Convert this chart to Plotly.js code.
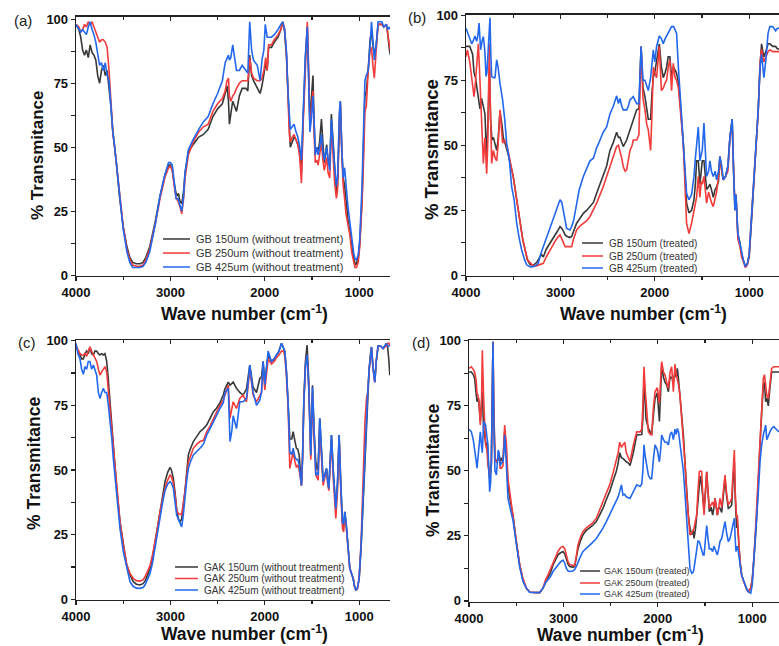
<!DOCTYPE html>
<html><head><meta charset="utf-8">
<script src="https://cdn.plot.ly/plotly-3.0.1.min.js"></script>
<style>html,body{margin:0;padding:0;background:#fff}#chart{width:779px;height:646px}</style>
</head><body><div id="chart"></div>
<script>
// ---------- DATA: [wavenumber (cm-1), % transmittance] ----------
const GB150_untreated = [[4000,98],[3970,96],[3950,93],[3930,88],[3910,86],[3890,88],[3870,85],[3850,90],[3830,87],[3810,86],[3790,84],[3770,78],[3750,75],[3730,80],[3710,82],[3690,78],[3670,80],[3650,74],[3630,66],[3610,56],[3590,50],[3570,43],[3540,31],[3500,19],[3460,11],[3430,7],[3400,5],[3360,4.5],[3320,4.5],[3290,5],[3260,7],[3220,11],[3160,21],[3110,31],[3060,39],[3020,43],[3000,43],[2980,41],[2960,36],[2940,32],[2925,31],[2915,32],[2900,29],[2880,28],[2860,33],[2845,40],[2810,48],[2760,51],[2700,54],[2650,55],[2600,57],[2550,62],[2500,65],[2450,67],[2420,71],[2400,74],[2385,68],[2375,59],[2360,63],[2340,68],[2320,66],[2300,64],[2270,70],[2240,73],[2200,73],[2180,72],[2160,86],[2140,78],[2120,76],[2080,73],[2050,71],[2030,74],[2010,78],[1990,83],[1975,80],[1960,89],[1930,89],[1900,91],[1860,93],[1830,96],[1810,99],[1790,95],[1770,85],[1755,70],[1740,55],[1730,50],[1710,52],[1690,54],[1670,53],[1650,51],[1630,48],[1612,40],[1595,60],[1570,85],[1550,97],[1535,80],[1522,60],[1505,70],[1490,78],[1478,60],[1465,48],[1450,50],[1435,48],[1420,52],[1400,61],[1385,52],[1370,44],[1355,48],[1345,51],[1330,45],[1312,43],[1295,63],[1275,50],[1260,40],[1242,32],[1230,35],[1210,62],[1200,68],[1185,50],[1170,38],[1155,35],[1140,28],[1120,22],[1100,17],[1080,11],[1060,7],[1040,4],[1025,5],[1010,7],[995,12],[970,30],[950,55],[940,70],[925,72],[905,80],[885,92],[870,95],[855,90],[840,86],[820,90],[800,98],[760,98],[740,97],[712,98],[700,95],[680,88],[670,86]];
const GB250_untreated = [[4000,98],[3970,97],[3950,95],[3930,96],[3910,98],[3890,97],[3870,99],[3850,98],[3830,99],[3810,97],[3790,95],[3770,93],[3750,91],[3730,92],[3710,92],[3690,91],[3670,89],[3650,80],[3630,68],[3610,56],[3590,50],[3570,43],[3540,31],[3500,19],[3460,10],[3430,6],[3400,4],[3360,3.5],[3320,3.5],[3290,4],[3260,6],[3220,10],[3160,20],[3110,30],[3060,38],[3020,42],[3000,42.5],[2980,41],[2960,35],[2940,30],[2920,29],[2900,27],[2880,24],[2860,30],[2845,38],[2810,47],[2760,52],[2700,56],[2650,58],[2600,59],[2550,64],[2500,67],[2450,69],[2420,72],[2400,76],[2385,77],[2375,70],[2360,68],[2340,70],[2320,71],[2300,73],[2270,75],[2240,76],[2200,76],[2180,76],[2160,85],[2140,79],[2120,77],[2080,76],[2050,76],[2030,77],[2010,80],[1990,85],[1975,80],[1960,90],[1930,90],[1900,92],[1860,94],[1830,96],[1810,99],[1790,96],[1770,86],[1755,70],[1740,55],[1730,52],[1710,54],[1690,55],[1670,53],[1650,51],[1630,46],[1612,36],[1595,58],[1570,85],[1550,99],[1535,80],[1522,57],[1505,65],[1490,72],[1478,55],[1465,44],[1450,45],[1435,43],[1420,47],[1400,52],[1385,45],[1370,41],[1355,44],[1345,46],[1330,40],[1312,38],[1295,58],[1275,45],[1260,36],[1242,30],[1230,33],[1210,62],[1200,67],[1185,48],[1170,35],[1155,30],[1140,24],[1120,20],[1100,16],[1080,9],[1060,5],[1045,3],[1030,3],[1010,5],[995,11],[970,28],[950,50],[940,64],[925,66],[905,80],[885,88],[870,89],[855,82],[840,77],[820,88],[800,98],[760,98],[740,97],[712,98],[700,94],[680,90],[670,88]];
const GB425_untreated = [[4000,98],[3970,96],[3950,95],[3930,96],[3910,95],[3890,94],[3870,97],[3850,99],[3830,96],[3810,94],[3790,91],[3770,87],[3750,82],[3730,83],[3710,80],[3690,83],[3670,78],[3650,76],[3630,66],[3610,56],[3590,50],[3570,43],[3540,30],[3500,18],[3460,9],[3430,5],[3400,3],[3360,3],[3320,3],[3290,3.5],[3260,5],[3220,9],[3160,20],[3110,31],[3060,39],[3020,44],[3000,44],[2980,43],[2960,37],[2940,30],[2920,30],[2900,27],[2880,25],[2860,31],[2845,40],[2810,49],[2760,53],[2700,57],[2650,60],[2600,62],[2550,67],[2500,71],[2450,76],[2420,83],[2400,85],[2385,86],[2375,84],[2360,85],[2340,90],[2320,84],[2300,80],[2270,80],[2240,82],[2200,80],[2180,79],[2160,99],[2140,88],[2120,84],[2080,82],[2050,76],[2030,84],[2010,88],[1995,98],[1975,93],[1960,93],[1930,93],[1900,94],[1860,96],[1830,98],[1810,99],[1790,96],[1770,87],[1755,72],[1740,60],[1730,57],[1710,58],[1690,59],[1670,56],[1650,54],[1630,50],[1612,45],[1595,62],[1570,86],[1550,97],[1535,75],[1522,56],[1505,62],[1490,70],[1478,60],[1465,47],[1450,50],[1435,47],[1420,50],[1400,55],[1385,48],[1370,45],[1355,48],[1345,50],[1330,45],[1312,41],[1295,61],[1275,48],[1260,42],[1242,35],[1230,38],[1210,64],[1200,68],[1185,50],[1170,38],[1155,42],[1140,34],[1120,27],[1100,21],[1080,14],[1060,9],[1045,6.5],[1030,6],[1010,8],[995,14],[970,35],[950,60],[940,76],[925,78],[905,80],[885,90],[870,99],[855,92],[840,84],[820,90],[800,99],[760,99],[740,97],[712,98],[700,96],[680,97],[670,96]];

const GB150_treated = [[4000,88],[3960,88],[3930,85],[3915,78],[3900,76],[3887,72.6],[3870,68],[3852,64],[3835,68],[3823,66],[3799,62],[3781,44],[3765,60],[3750,80],[3740,60],[3725,52],[3710,53],[3690,50],[3675,48],[3660,52],[3640,63],[3620,58],[3605,53],[3580,50],[3550,46],[3500,38],[3450,26],[3400,14],[3350,6],[3320,4],[3280,4],[3250,5],[3200,8],[3181,7],[3150,10],[3110,12.3],[3080,14],[3057,15],[3030,17],[3004,18.7],[2985,18],[2969,17],[2950,15.5],[2934,15],[2900,14.5],[2881,14.9],[2860,17],[2828,20],[2790,22],[2757,23.8],[2720,25],[2687,26.4],[2650,28],[2616,31.5],[2580,35],[2546,38],[2510,42],[2475,48],[2440,51],[2404,55],[2385,53],[2369,53],[2350,51],[2334,49.5],[2298,52],[2263,56],[2228,60],[2192,63.6],[2168,64],[2145,88],[2125,72],[2104,68.7],[2069,60],[2044,60],[2030,70],[2016,76],[2000,78],[1981,83],[1966,85],[1952,89],[1930,80],[1910,76],[1890,78],[1875,80],[1858,84],[1840,84],[1822,76],[1804,80],[1785,79],[1769,77.7],[1750,74],[1734,68],[1698,50.8],[1663,27.7],[1638,24],[1610,25],[1585,29],[1570,35],[1557,44],[1539,44],[1522,35],[1508,42],[1497,44],[1479,44],[1465,38],[1451,33],[1430,34],[1416,35],[1400,33],[1381,30],[1360,33],[1345,34],[1325,36],[1310,45.6],[1290,40],[1275,36.7],[1250,38],[1225,42],[1204,53],[1180,60],[1165,40],[1151,25],[1140,31],[1120,16],[1098,12.3],[1080,8],[1063,6],[1040,3.3],[1020,4],[1000,7],[980,18],[957,31.5],[930,50],[904,63.6],[885,80],[869,89],[855,86],[844,84],[823,86],[800,89],[781,89],[750,88],[720,88],[700,87],[684,87]];
const GB250_treated = [[4000,84],[3985,86.7],[3960,82],[3940,76],[3925,72],[3915,68.7],[3905,72],[3894,76.4],[3880,84],[3869,89],[3858,80],[3845,66],[3830,52],[3816,43],[3805,50],[3799,53],[3790,46],[3781,39],[3770,50],[3762,70],[3753,89],[3745,70],[3735,50],[3728,43],[3710,48],[3690,45],[3675,44],[3660,50],[3640,63.6],[3625,58],[3612,50.8],[3590,52],[3570,50],[3550,47],[3500,38],[3450,26],[3400,14],[3350,6],[3300,4],[3260,3.5],[3230,4],[3181,4.6],[3150,7],[3110,9.7],[3080,12],[3057,13],[3030,14.5],[3004,15.5],[2985,14],[2969,12.3],[2950,11],[2934,11],[2900,11],[2881,11],[2860,14],[2828,17.4],[2790,19],[2757,20],[2720,21],[2687,22.6],[2650,25],[2616,27.7],[2580,31],[2546,34],[2510,38],[2475,41.8],[2440,45],[2404,49.5],[2385,50],[2369,48],[2350,45],[2334,41.8],[2315,40],[2298,40.5],[2280,44],[2263,48],[2240,50],[2228,52],[2192,52],[2168,54],[2145,88],[2125,68],[2104,63.6],[2085,58],[2069,56],[2044,48],[2030,62],[2016,80],[2000,78],[1981,76],[1966,82],[1952,88],[1930,71],[1910,72],[1890,74],[1875,75],[1858,80],[1840,82.8],[1822,71],[1804,81.5],[1785,76],[1769,75],[1750,72],[1734,65],[1698,50.8],[1663,20],[1638,16],[1610,20],[1585,25],[1570,28],[1557,30],[1539,38],[1522,30],[1508,36],[1497,35],[1479,38],[1465,33],[1451,27.7],[1430,32],[1416,30],[1400,28],[1381,26.4],[1360,30],[1345,32],[1325,38],[1310,45.6],[1290,40],[1275,36.7],[1250,38],[1225,40],[1204,53],[1180,58],[1165,40],[1151,28],[1140,31],[1120,14],[1098,11],[1080,7],[1060,5],[1040,3],[1020,4],[1000,8],[980,20],[957,33],[930,50],[904,63],[885,82],[869,87],[855,84],[844,82],[823,84],[800,86],[781,86.7],[750,86],[720,86],[700,86],[684,86]];
const GB425_treated = [[4000,95],[3980,93],[3960,91.8],[3940,89],[3925,90],[3905,92],[3887,90],[3875,92],[3862,97],[3845,86.7],[3830,90],[3816,91.8],[3800,86],[3788,76.4],[3778,78],[3770,82.8],[3758,90],[3746,99],[3737,85],[3728,76.4],[3710,76],[3693,76],[3675,82.8],[3660,80],[3640,73.8],[3612,67.4],[3590,60],[3569,50.8],[3540,44],[3516,34],[3490,29],[3463,20],[3435,14],[3410,9.7],[3380,6],[3357,4],[3320,3.2],[3287,3.3],[3260,3.8],[3234,4.6],[3210,8],[3181,11],[3150,14],[3110,18.7],[3080,21],[3057,23.8],[3030,27],[3004,29],[2985,28],[2969,25],[2950,21],[2934,18],[2900,17.4],[2881,18.7],[2860,21],[2840,25],[2828,29],[2800,33],[2757,38],[2720,41],[2687,44],[2650,45],[2616,49],[2580,52],[2546,55],[2510,57],[2475,62],[2440,65],[2404,69],[2385,66],[2369,68],[2350,65],[2334,63.6],[2298,63.6],[2280,65],[2263,67.4],[2228,68.7],[2192,66],[2168,66],[2145,88],[2125,75],[2104,75],[2069,71],[2044,76],[2030,82],[2016,86.7],[2000,82],[1981,88],[1966,90],[1952,92],[1930,91],[1910,89],[1890,91],[1875,92],[1840,94],[1822,95.6],[1800,95.6],[1780,94],[1769,93],[1750,80],[1734,70],[1698,50.8],[1663,31.5],[1638,29],[1610,31],[1585,38],[1570,45],[1557,50.8],[1539,57],[1522,44],[1508,46],[1497,48],[1479,58.5],[1465,45],[1451,38],[1430,40],[1416,44],[1400,40],[1381,38],[1360,40],[1345,36.7],[1325,40],[1310,45.6],[1290,42],[1275,36.7],[1250,38],[1225,42],[1204,53],[1180,60],[1165,40],[1151,25],[1140,31],[1120,16],[1098,12.3],[1080,8.5],[1063,6],[1040,3.3],[1020,4.5],[1000,8],[980,20],[957,31.5],[930,50],[904,63.6],[885,80],[869,85],[855,80],[844,76],[823,83],[800,93],[781,95.6],[750,95.6],[720,94],[700,95],[684,95]];

const GAK150_untreated = [[4000,98],[3980,96],[3958,94.5],[3940,93],[3922,93],[3905,95],[3887,96],[3870,95],[3852,97.6],[3835,95],[3816,94.5],[3800,96],[3781,96],[3763,95],[3746,94.5],[3728,95],[3710,94.5],[3693,95],[3675,92],[3660,86],[3640,76],[3620,66],[3605,58],[3569,43],[3534,30],[3499,21],[3463,13],[3428,9.4],[3393,6.8],[3360,5.8],[3322,5.5],[3290,6],[3269,7],[3240,9.5],[3216,12],[3190,16],[3163,22],[3135,28],[3110,35],[3080,41],[3057,45.5],[3030,49],[3004,51],[2990,50],[2969,46.8],[2950,41],[2934,35],[2915,31],[2899,30],[2881,31],[2865,35],[2846,41.6],[2830,48],[2810,55.8],[2790,58],[2757,61],[2720,63],[2687,64.8],[2650,66],[2616,67.4],[2580,70],[2546,72.5],[2510,74],[2475,76],[2440,79],[2422,81.4],[2387,84],[2369,82.8],[2335,84],[2300,81.6],[2265,80],[2230,79],[2194,81.4],[2159,90.6],[2124,82],[2088,80],[2053,85.4],[2035,86],[2018,92],[2000,84],[1965,94.5],[1930,92],[1900,93],[1877,94.5],[1850,96],[1823,99],[1800,97],[1788,96],[1770,88],[1753,76.4],[1735,62],[1715,62],[1700,64.8],[1680,61],[1665,58.4],[1650,58],[1636,55.7],[1612,44],[1600,55],[1587,76.4],[1570,92],[1552,98.3],[1535,85],[1513,55.7],[1495,82.8],[1478,65],[1460,53],[1445,50],[1435,52],[1418,70],[1400,58],[1382,45.5],[1365,48],[1347,50.6],[1335,47],[1322,42.8],[1310,52],[1294,63.5],[1275,50],[1262,40],[1248,35],[1230,45],[1213,63.5],[1195,45],[1178,30],[1165,28],[1153,33.8],[1140,30],[1128,24.8],[1115,18],[1100,12],[1082,10],[1064,8],[1050,5],[1036,3.6],[1020,4],[1001,8],[980,20],[959,37.7],[940,55],[923,67.4],[910,80],[895,89],[880,95],[870,97.6],[855,90],[835,84],[820,92],[800,98],[775,98],[747,97],[712,99],[700,98],[685,92],[676,86.7]];
const GAK250_untreated = [[4000,98],[3980,96.5],[3958,95],[3940,94.5],[3922,94.5],[3905,95],[3887,94],[3870,96],[3852,97.6],[3835,96],[3816,94.5],[3800,93],[3781,92],[3763,89],[3746,86.7],[3728,88],[3710,89.3],[3693,90],[3675,88],[3660,82],[3640,72.5],[3620,64],[3605,58],[3569,43],[3534,30],[3499,21],[3463,13.5],[3428,10],[3393,8],[3360,7.2],[3322,7],[3290,7.5],[3269,8.7],[3240,11],[3216,13],[3190,17],[3163,22],[3135,28],[3110,34],[3080,39],[3057,43],[3030,46],[3004,48],[2990,47.5],[2969,45],[2950,40],[2934,34.5],[2915,33],[2899,33],[2881,32.6],[2865,36],[2846,41.6],[2830,47],[2810,53],[2790,55],[2757,58.4],[2720,60],[2687,61],[2650,61.5],[2616,64.8],[2580,67],[2546,70],[2510,72.5],[2475,75],[2440,77],[2422,79],[2387,82.8],[2369,70],[2350,74],[2335,76.4],[2300,73.8],[2265,77.7],[2230,79],[2194,76.4],[2159,89],[2124,79],[2088,76.4],[2053,79],[2035,80],[2018,90],[2000,81],[1965,93],[1930,91],[1900,92],[1877,93.5],[1850,94.5],[1823,96],[1800,96],[1788,94],[1770,86],[1753,74],[1735,50.6],[1715,54],[1700,57],[1680,53],[1665,51],[1650,52],[1636,50],[1612,44],[1600,55],[1587,75],[1570,90],[1552,94.5],[1535,82],[1513,54],[1495,80],[1478,62],[1460,48],[1445,47],[1435,46],[1418,66],[1400,55],[1382,44],[1365,47],[1347,50],[1335,45],[1322,42],[1310,50],[1294,61],[1275,47],[1262,38],[1248,31.3],[1230,42],[1213,62],[1195,42],[1178,27.4],[1165,26],[1153,32],[1140,29],[1128,24],[1115,17],[1100,12],[1082,10],[1064,8],[1050,5],[1036,3.6],[1020,4],[1001,8],[980,22],[959,45],[940,68],[923,77.7],[910,80],[895,89],[880,95],[870,97],[855,90],[835,84],[820,92],[800,98],[775,98],[747,97],[712,98],[700,99],[685,99],[676,98]];
const GAK425_untreated = [[4000,99],[3980,95],[3958,93],[3940,89],[3922,87],[3905,90],[3887,89],[3870,92],[3852,92],[3835,89],[3816,90.6],[3800,89],[3781,86.7],[3763,80],[3746,77.7],[3728,80],[3710,81.6],[3693,80],[3675,80],[3660,76],[3640,70],[3620,62],[3605,54.5],[3569,40],[3534,27.4],[3499,18.4],[3463,12],[3428,6.8],[3393,4.9],[3360,4.3],[3322,4.2],[3290,4.5],[3269,5.5],[3240,8],[3216,10],[3190,14],[3163,20],[3135,26],[3110,32.6],[3080,38],[3057,42],[3030,44.5],[3004,45.5],[2990,45],[2969,43],[2950,38],[2934,32.6],[2915,31],[2899,29.4],[2881,28],[2865,32],[2846,40],[2830,45],[2810,50.6],[2790,53],[2757,55.8],[2720,57],[2687,58.4],[2650,60],[2616,63.5],[2580,66],[2546,68.7],[2510,71],[2475,73.8],[2440,76],[2422,80],[2387,81.6],[2369,61],[2350,65],[2335,71],[2300,66],[2265,76.4],[2230,76.4],[2194,77.7],[2159,90.6],[2124,80],[2088,75],[2053,77],[2035,80],[2018,92],[2000,83],[1965,96],[1930,92],[1900,93],[1877,94.5],[1850,96],[1823,99],[1800,97],[1788,96],[1770,87],[1753,76],[1735,57],[1715,56],[1700,58.4],[1680,55],[1665,54],[1650,54],[1636,52],[1612,44],[1600,55],[1587,76],[1570,90],[1552,94.5],[1535,82],[1513,55.7],[1495,82],[1478,62],[1460,48],[1445,49],[1435,48],[1418,70],[1400,56],[1382,45.5],[1365,48],[1347,50.6],[1335,46],[1322,42.8],[1310,52],[1294,63.5],[1275,49],[1262,40],[1248,35],[1230,45],[1213,63.5],[1195,44],[1178,30],[1165,29],[1153,33.8],[1140,30],[1128,24.8],[1115,18],[1100,12],[1082,10],[1064,8],[1050,5],[1036,3.6],[1020,4],[1001,8],[980,21],[959,40],[940,60],[923,72.5],[910,80],[895,89],[880,95],[870,97.6],[855,90],[835,84],[820,92],[800,98],[775,98],[747,97],[712,99],[700,98],[685,98],[676,98]];

const GAK150_treated = [[4000,88],[3975,88],[3955,87],[3940,85.5],[3925,80],[3915,76.6],[3900,78],[3894,74],[3880,69],[3868,76],[3859,80.4],[3845,66],[3824,61],[3810,60],[3799,55],[3781,47],[3763,52],[3753,80],[3746,99.6],[3738,75],[3725,55],[3710,53.5],[3695,54],[3682,57],[3670,53],[3657,55],[3640,53.5],[3630,60],[3622,65],[3605,57],[3587,44],[3560,38],[3534,33],[3499,22.8],[3463,13.8],[3428,8],[3393,4.9],[3357,3.3],[3305,3.2],[3252,3.2],[3216,4.9],[3190,7],[3163,8.7],[3135,11],[3110,13.8],[3080,16],[3057,17.7],[3030,18.5],[3004,19],[2985,18],[2969,16],[2950,14],[2934,13.2],[2900,13],[2881,13.2],[2860,17],[2846,20],[2820,23],[2793,25.4],[2760,27],[2722,28],[2690,29],[2651,30.5],[2615,33],[2581,35.6],[2545,39],[2510,42],[2475,46],[2440,49.7],[2420,53],[2404,57],[2385,55],[2369,54.8],[2334,53.5],[2310,53],[2294,52],[2259,57],[2223,63.8],[2188,63.8],[2170,64],[2158,70],[2146,85.5],[2135,78],[2125,70],[2100,66.4],[2080,65],[2065,63.8],[2045,72],[2029,77.8],[2005,80],[1995,76],[1983,69],[1970,80],[1959,90.6],[1940,86],[1923,84],[1905,83],[1888,80.4],[1870,86],[1853,86],[1835,84],[1818,88],[1805,86],[1793,89.4],[1780,85],[1765,79],[1750,72],[1729,63.8],[1710,52],[1694,40.7],[1675,32],[1659,28],[1641,25.4],[1625,27],[1616,24],[1600,28],[1588,31.8],[1575,38],[1560,44.6],[1548,48],[1535,44],[1520,38],[1510,35.6],[1495,42],[1482,49.6],[1468,42],[1454,34.3],[1435,36],[1419,33],[1405,36],[1394,39.4],[1380,36],[1369,33],[1355,36],[1341,35.6],[1323,34],[1305,40],[1288,47],[1270,40],[1253,35.6],[1235,36],[1217,36.9],[1205,45],[1189,53.5],[1180,40],[1172,30.5],[1165,28],[1158,31],[1150,25],[1136,19],[1125,14],[1112,10],[1095,8],[1076,6],[1058,4.5],[1041,3.6],[1016,4.9],[1000,8],[988,12.5],[970,22],[953,31.8],[935,48],[917,60],[900,72],[882,83],[870,84],[857,76.6],[845,78],[829,75],[812,82],[794,88],[770,88],[745,88],[716,88]];
const GAK250_treated = [[4000,89.4],[3975,90],[3955,89],[3940,88],[3925,85],[3915,80],[3905,79],[3894,76.6],[3880,67.6],[3868,75],[3859,96.4],[3850,83],[3845,78],[3824,60],[3810,58],[3799,52],[3781,48.4],[3763,53],[3753,80],[3746,99.6],[3738,74],[3725,55],[3710,53.5],[3695,54],[3682,57],[3670,51],[3657,51],[3640,52],[3630,62],[3622,67.6],[3612,63],[3605,61],[3587,47],[3560,39],[3534,33.5],[3499,23],[3463,14],[3428,8.5],[3393,5],[3357,3.4],[3305,3.2],[3252,3.2],[3216,5],[3190,8],[3163,10],[3135,12.5],[3110,15],[3080,17],[3057,19],[3030,20.5],[3004,20.9],[2985,20],[2969,17.5],[2950,15],[2934,14],[2900,13.5],[2881,13.5],[2860,18],[2846,21.5],[2820,24.5],[2793,26.6],[2760,28],[2722,29],[2690,30],[2651,31.8],[2615,35],[2581,38],[2545,41],[2510,44.6],[2475,49],[2440,53.5],[2420,57],[2404,61],[2385,59],[2369,60],[2350,61],[2334,57],[2310,55],[2294,53.5],[2259,60],[2223,65],[2188,65],[2170,66],[2158,75],[2146,90],[2135,82],[2125,76.6],[2100,65],[2080,64],[2065,63.8],[2045,75],[2029,80.4],[2005,82],[1995,78],[1983,76],[1970,85],[1959,92],[1940,88],[1923,86.8],[1905,84],[1888,81.7],[1870,88],[1853,90],[1835,80.4],[1818,91],[1805,87],[1793,85],[1780,83],[1765,79],[1750,72],[1729,63.8],[1710,52],[1694,40.7],[1675,30],[1659,25.4],[1641,26],[1625,27],[1616,28],[1600,31],[1588,33],[1575,42],[1560,49.7],[1548,50],[1535,49.7],[1520,38],[1510,33],[1495,42],[1482,49.6],[1468,42],[1454,35.6],[1435,37],[1419,38],[1405,36],[1394,39.4],[1380,36],[1369,33],[1355,36],[1341,39.4],[1323,36],[1305,42],[1288,48.4],[1270,41],[1253,36.9],[1235,38],[1217,39.4],[1205,48],[1189,58],[1180,42],[1172,33],[1165,32],[1158,33],[1150,26],[1136,19],[1125,14],[1112,10],[1095,8],[1076,6],[1058,4.5],[1041,3.6],[1016,4.9],[1000,8],[988,12.5],[970,24],[953,35],[935,50],[917,61],[900,74],[882,85.5],[870,87],[857,81.7],[845,79],[829,77.8],[812,84],[794,89.4],[770,90],[745,90],[716,90]];
const GAK425_treated = [[4000,66],[3975,65],[3955,62],[3940,58.6],[3925,54],[3915,51],[3905,55],[3894,60],[3880,65],[3868,60],[3859,57],[3845,69],[3835,68],[3824,67.6],[3810,63],[3799,60],[3790,50],[3781,42],[3770,46],[3763,55],[3753,80],[3746,99.6],[3738,70],[3725,50],[3710,48.4],[3700,55],[3690,58],[3682,57],[3670,52],[3657,53],[3640,53.5],[3630,58],[3622,63.8],[3612,58],[3605,53.5],[3587,39.4],[3560,35],[3534,31],[3499,22],[3463,13],[3428,7.5],[3393,4.9],[3357,3.3],[3305,3.2],[3252,3.2],[3216,4.9],[3190,7],[3163,8.2],[3135,9.5],[3110,11.3],[3080,12.5],[3057,13.8],[3030,15],[3004,15.7],[2985,14.5],[2969,12.5],[2950,11.5],[2934,11.3],[2900,11.5],[2881,12],[2860,13.5],[2846,15],[2820,17],[2793,19],[2760,20],[2722,21.5],[2690,22.5],[2651,24],[2615,26],[2581,28],[2545,30.5],[2510,33],[2475,35.5],[2440,38],[2420,40],[2404,42],[2385,44.6],[2369,40.7],[2350,41],[2334,40],[2310,39.5],[2294,39.4],[2259,42],[2223,44.6],[2188,44],[2170,45],[2158,50],[2146,60],[2135,56],[2125,53.5],[2100,48.4],[2080,47],[2065,47],[2045,55],[2029,60],[2005,58],[1995,55],[1983,53.5],[1970,58],[1959,63.8],[1940,62],[1923,61],[1905,61],[1888,60],[1870,64],[1853,65],[1835,62],[1818,66],[1805,64],[1793,66.3],[1780,65],[1765,61],[1750,56],[1729,50],[1710,40],[1694,31.8],[1675,20],[1659,12.5],[1641,10.6],[1625,11],[1616,12.5],[1600,17],[1588,21.5],[1575,23],[1560,22.8],[1548,21],[1535,19],[1520,17.7],[1510,17.7],[1495,23],[1482,29],[1468,24],[1454,20],[1435,20],[1419,19],[1405,21],[1394,20],[1380,19],[1369,17.7],[1355,20],[1341,22.8],[1323,24],[1305,27],[1288,30.5],[1270,26],[1253,22.8],[1235,24],[1217,26.6],[1205,29],[1189,31.8],[1180,24],[1172,19],[1165,20],[1158,21],[1150,20],[1136,17],[1125,13],[1112,10],[1095,8],[1076,6],[1058,4.5],[1041,3.6],[1016,3],[1000,6],[988,12.5],[970,20],[953,28],[935,42],[917,53.5],[900,60],[882,63.8],[870,66],[857,67.6],[845,62],[829,63.8],[812,65],[794,66.3],[770,67],[745,66],[716,65]];

const seriesNames = {
  a: ['GB 150um (without treatment)','GB 250um (without treatment)','GB 425um (without treatment)'],
  b: ['GB 150um (treated)','GB 250um (treated)','GB 425um (treated)'],
  c: ['GAK 150um (without treatment)','GAK 250um (without treatment)','GAK 425um (without treatment)'],
  d: ['GAK 150um (treated)','GAK 250um (treated)','GAK 425um (treated)']
};
const panelData = {
  a: [GB150_untreated, GB250_untreated, GB425_untreated],
  b: [GB150_treated, GB250_treated, GB425_treated],
  c: [GAK150_untreated, GAK250_untreated, GAK425_untreated],
  d: [GAK150_treated, GAK250_treated, GAK425_treated]
};
const panelLabels = ['(a)','(b)','(c)','(d)'];
const xTickVals = [4000,3000,2000,1000];
const yTickVals = [0,25,50,75,100];
const xTitle = '<b>Wave number (cm<sup>-1</sup>)</b>';
const yTitle = '<b>% Transmitance</b>';

// ---------- STYLE / LAYOUT ----------
const W = 779, H = 646;
const colors = ['#383838','#f23b3b','#2368ec'];
const FONT = 'Liberation Sans, Arial, sans-serif';
const px = v => v / W, py = v => 1 - v / H;

const panels = [
  {key:'a', ax:'', xl:76, xr:390, yt:16.7, yb:276, xr_w:674, ymax:101, yTitle:[37,156,17], xTitleP:[244,313], lab:[23,20],
   leg:{x0:163,x1:190,tx:194,rows:[239,253,267],fs:11}},
  {key:'b', ax:'2', xl:466, xr:779, yt:14.7, yb:276, xr_w:684, ymax:100.2, yTitle:[431,150,18.5], xTitleP:[643,313], lab:[417,18],
   leg:{x0:582,x1:603,tx:607,rows:[243,256,268],fs:10}},
  {key:'c', ax:'3', xl:76, xr:390, yt:340, yb:600, xr_w:674, ymax:100.3, yTitle:[34,463,17.5], xTitleP:[244,633], lab:[27,342],
   leg:{x0:175,x1:198,tx:202,rows:[567,578.5,590],fs:10}},
  {key:'d', ax:'4', xl:469, xr:779, yt:340, yb:601.7, xr_w:716, ymax:100.3, yTitle:[433,470,17.5], xTitleP:[620,634], lab:[421,342],
   leg:{x0:580,x1:600,tx:602,rows:[571,583,594],fs:9}}
];

const traces = [];
const layout = {
  width: W, height: H, margin:{l:0,r:0,t:0,b:0},
  paper_bgcolor:'#fff', plot_bgcolor:'rgba(0,0,0,0)',
  showlegend:false, font:{family:FONT, color:'#111'},
  annotations:[], shapes:[]
};

panels.forEach((p, i) => {
  const xa = 'x' + p.ax, ya = 'y' + p.ax;
  const topId = String(5 + i);
  panelData[p.key].forEach((ser, k) => {
    traces.push({
      type:'scatter', mode:'lines', name: seriesNames[p.key][k],
      x: ser.map(d => d[0]), y: ser.map(d => d[1]),
      xaxis: xa, yaxis: ya,
      line:{color: colors[k], width:1.6}, hoverinfo:'x+y+name'
    });
  });
  traces.push({type:'scatter', mode:'lines', x:[], y:[], xaxis:'x'+topId, yaxis:ya, showlegend:false, hoverinfo:'skip'});

  const xdom = [px(p.xl), px(p.xr)];
  const ydom = [py(p.yb), py(p.yt)];
  const common = {showgrid:false, zeroline:false, showline:true, linecolor:'#222', linewidth:1.3,
                  tickcolor:'#222', tickwidth:1.2};
  layout['xaxis' + p.ax] = Object.assign({}, common, {
    domain: xdom, range:[4000, p.xr_w], anchor: ya,
    tickmode:'array', tickvals: xTickVals, ticks:'outside', ticklen:4,
    minor:{dtick:500, tick0:0, ticks:'outside', ticklen:3, tickcolor:'#222', showgrid:false},
    tickfont:{family:FONT, size:13, weight:'bold', color:'#111'}
  });
  layout['xaxis' + topId] = Object.assign({}, common, {
    range:[4000, p.xr_w], overlaying: xa, anchor: ya, side:'top',
    tickmode:'array', tickvals: xTickVals, ticks:'inside', ticklen:4, showticklabels:false,
    minor:{dtick:500, tick0:0, ticks:'inside', ticklen:3, tickcolor:'#222', showgrid:false}
  });
  layout['yaxis' + p.ax] = Object.assign({}, common, {
    domain: ydom, range:[-0.3, p.ymax], anchor: xa,
    tickmode:'array', tickvals: yTickVals, ticks:'outside', ticklen:4,
    minor:{dtick:12.5, tick0:0, ticks:'outside', ticklen:4, tickcolor:'#222', showgrid:false},
    tickfont:{family:FONT, size:13, weight:'bold', color:'#111'}
  });

  layout.annotations.push({text: panelLabels[i], xref:'paper', yref:'paper', x:px(p.lab[0]), y:py(p.lab[1]),
    xanchor:'center', yanchor:'middle', showarrow:false, font:{family:FONT, size:15, color:'#222'}});
  layout.annotations.push({text: yTitle, xref:'paper', yref:'paper', x:px(p.yTitle[0]), y:py(p.yTitle[1]),
    xanchor:'center', yanchor:'middle', textangle:-90, showarrow:false, font:{family:FONT, size:p.yTitle[2], color:'#111'}});
  layout.annotations.push({text: xTitle, xref:'paper', yref:'paper', x:px(p.xTitleP[0]), y:py(p.xTitleP[1]),
    xanchor:'center', yanchor:'middle', showarrow:false, font:{family:FONT, size:17.5, color:'#111'}});
  p.leg.rows.forEach((ry, k) => {
    layout.shapes.push({type:'line', xref:'paper', yref:'paper', x0:px(p.leg.x0), x1:px(p.leg.x1), y0:py(ry), y1:py(ry),
      line:{color:colors[k], width:1.5}});
    layout.annotations.push({text: seriesNames[p.key][k], xref:'paper', yref:'paper', x:px(p.leg.tx), y:py(ry),
      xanchor:'left', yanchor:'middle', showarrow:false, font:{family:FONT, size:p.leg.fs, color:'#333'}});
  });
});

Plotly.newPlot('chart', traces, layout, {displayModeBar:false, staticPlot:true});
</script>
</body></html>
